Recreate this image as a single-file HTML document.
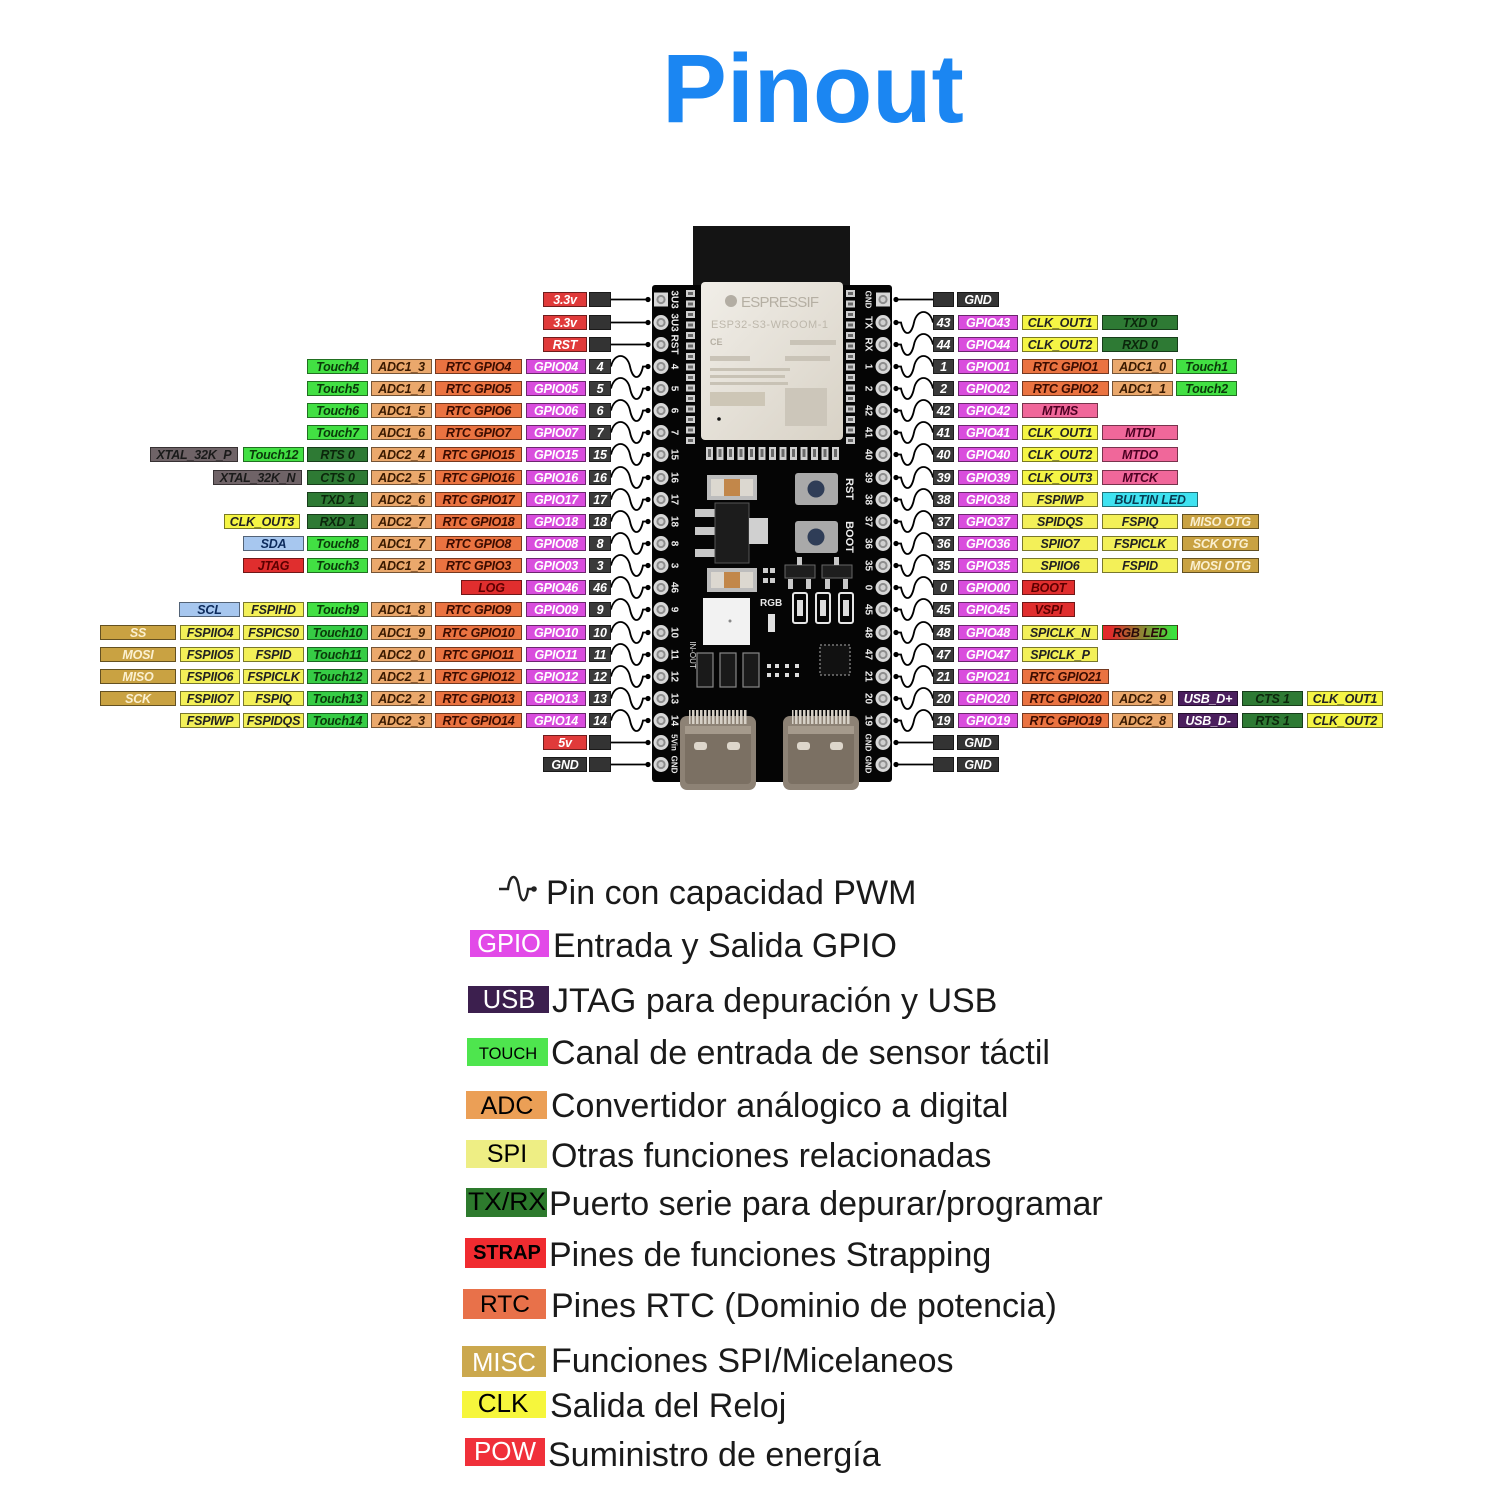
<!DOCTYPE html>
<html><head><meta charset="utf-8">
<style>
html,body{margin:0;padding:0;background:#fff;}
#c{position:relative;width:1500px;height:1500px;overflow:hidden;background:#fff;font-family:"Liberation Sans",sans-serif;}
svg{position:absolute;left:0;top:0;}
.b{position:absolute;height:15px;line-height:12px;font:italic bold 12.5px "Liberation Sans",sans-serif;text-align:center;box-sizing:border-box;border:1px solid rgba(0,0,0,.5);white-space:nowrap;letter-spacing:-0.2px}
.nm{background:#3a3a3a;color:#fff;width:22px}
.gp{background:#d94ddd;color:#fff;width:60px}
.rt{background:#ea7341;color:#3b0c00;width:87px}
.ad{background:#eaa86c;color:#3a1a00;width:61px}
.tc{background:#42e043;color:#0a3a0a;width:61px}
.t2{background:#36cc45;color:#0a3a0a;width:61px}
.tx{background:#2e7a34;color:#0b260b;width:61px}
.xt{background:#6f6367;color:#1a1a1a}
.ck{background:#f5f545;color:#222;width:76px}
.sp{background:#f3f058;color:#222;width:61px}
.bl{background:#a7c7ef;color:#0d2b5c;width:61px}
.rd{background:#e02e2e;color:#5c0000}
.pw{background:#e03a3a;color:#fff;width:44px}
.gn{background:#343434;color:#fff;width:44px}
.dk{background:#333;width:22px}
.ms{background:#c9a242;color:#fbf0d0}
.pk{background:#f0679a;color:#4c0022;width:76px}
.cy{background:#3fe2f0;color:#083c52}
.us{background:#4b1f5e;color:#fff;width:60px}
.rg{background:linear-gradient(90deg,#e12b2b 10%,#3de03d 95%);color:#2a0a0a;width:76px}
</style></head>
<body><div id="c">
<svg width="1500" height="1500" viewBox="0 0 1500 1500" xmlns="http://www.w3.org/2000/svg">
<defs>
<linearGradient id="silver" x1="0" y1="0" x2="1" y2="1"><stop offset="0" stop-color="#f1eee8"/><stop offset="1" stop-color="#d8d2c6"/></linearGradient>
<pattern id="padv" x="686" y="289" width="10" height="10.5" patternUnits="userSpaceOnUse"><rect x="0" y="1" width="9" height="7" fill="#d0d0d0"/><rect x="2" y="3" width="5" height="3" fill="#6a6a6a"/></pattern>
<pattern id="padv2" x="846" y="289" width="10" height="10.5" patternUnits="userSpaceOnUse"><rect x="0" y="1" width="9" height="7" fill="#d0d0d0"/><rect x="2" y="3" width="5" height="3" fill="#6a6a6a"/></pattern>
<pattern id="padh" x="705" y="447" width="10.5" height="14" patternUnits="userSpaceOnUse"><rect x="1" y="0" width="7" height="13" fill="#d0d0d0"/><rect x="3" y="2" width="3" height="8" fill="#6a6a6a"/></pattern>
<pattern id="usbp" x="0" y="0" width="4" height="14" patternUnits="userSpaceOnUse"><rect x="0" y="0" width="2.5" height="14" fill="#d6d0c6"/></pattern>
<g id="wl" fill="none" stroke="#000" stroke-width="1.8"><path d="M611 0 C614 -14 627 -14 630 0 C633 14 640 14 643 0 L648 0"/><circle cx="648" cy="0" r="2.6" fill="#000" stroke="none"/></g>
<g id="wr" fill="none" stroke="#000" stroke-width="1.8"><path d="M896 0 L901 0 C904 14 911 14 914 0 C917 -14 930 -14 933 0"/><circle cx="896" cy="0" r="2.6" fill="#000" stroke="none"/></g>
<g id="sl" stroke="#000" stroke-width="1.8"><path d="M611 0 L648 0"/><circle cx="648" cy="0" r="2.6" fill="#000" stroke="none"/></g>
<g id="sr" stroke="#000" stroke-width="1.8"><path d="M896 0 L933 0"/><circle cx="896" cy="0" r="2.6" fill="#000" stroke="none"/></g>
<g id="ph"><circle r="7.5" fill="#d8d8d8"/><circle r="4.6" fill="#8e8e8e"/><circle r="2.6" fill="#cfcfcf"/></g>
<g id="phs"><rect x="-7" y="-7" width="14" height="14" fill="#d8d8d8"/><circle r="4.6" fill="#8e8e8e"/><circle r="2.6" fill="#cfcfcf"/></g>
<g id="usb"><rect x="0" y="6" width="76" height="74" rx="7" fill="#8d8275"/><rect x="9" y="0" width="58" height="14" fill="url(#usbp)"/><rect x="5" y="16" width="66" height="58" rx="4" fill="#7b7063"/><rect x="14" y="32" width="13" height="8" rx="3" fill="#ddd6cb"/><rect x="47" y="32" width="13" height="8" rx="3" fill="#ddd6cb"/><rect x="5" y="16" width="66" height="8" fill="#a59a8c"/></g>
</defs>

<text x="813" y="122" font-family="Liberation Sans, sans-serif" font-size="97" font-weight="bold" fill="#1b86f2" text-anchor="middle">Pinout</text>

<!-- board -->
<rect x="693" y="226" width="157" height="62" fill="#141414"/>
<rect x="652" y="285" width="240" height="497" rx="3" fill="#050505"/>
<rect x="686" y="289" width="9" height="157" fill="url(#padv)"/>
<rect x="846" y="289" width="9" height="157" fill="url(#padv2)"/>
<rect x="705" y="447" width="136" height="14" fill="url(#padh)"/>
<rect x="701" y="282" width="142" height="158" rx="4" fill="url(#silver)"/>
<circle cx="731" cy="301" r="6" fill="#b3ada3"/>
<text x="741" y="307" font-family="Liberation Sans, sans-serif" font-size="15" fill="#b5afa3" textLength="78">ESPRESSIF</text>
<text x="711" y="328" font-family="Liberation Sans, sans-serif" font-size="11" fill="#bdb7ab" textLength="117">ESP32-S3-WROOM-1</text>
<text x="710" y="345" font-family="Liberation Sans, sans-serif" font-size="9" font-weight="bold" fill="#b5afa3">CE</text>
<rect x="790" y="340" width="46" height="5" fill="#c9c3b7"/>
<rect x="710" y="356" width="40" height="5" fill="#c9c3b7"/><rect x="785" y="356" width="45" height="5" fill="#c9c3b7"/>
<rect x="710" y="368" width="80" height="3" fill="#c8c2b5"/><rect x="710" y="375" width="75" height="3" fill="#c8c2b5"/><rect x="710" y="382" width="78" height="3" fill="#c8c2b5"/>
<rect x="710" y="392" width="55" height="14" fill="#cdc6b6"/>
<rect x="785" y="388" width="42" height="38" fill="#ccc6ba"/>
<circle cx="719" cy="419" r="1.8" fill="#111"/>
<!-- components -->
<rect x="707" y="475" width="50" height="25" fill="#bdbdbd"/><rect x="711" y="479" width="42" height="17" fill="#dcd8d0"/><rect x="724" y="479" width="16" height="17" fill="#c2874a"/>
<rect x="795" y="473" width="43" height="32" rx="3" fill="#a9a9a9"/><circle cx="816" cy="489" r="8.5" fill="#2f3d57"/>
<rect x="695" y="509" width="20" height="8" fill="#c8c8c8"/><rect x="695" y="527" width="20" height="8" fill="#c8c8c8"/><rect x="695" y="549" width="20" height="8" fill="#c8c8c8"/>
<rect x="715" y="503" width="34" height="60" fill="#1c1c1c" stroke="#555" stroke-width="1"/>
<rect x="749" y="518" width="19" height="26" fill="#d0d0d0"/>
<rect x="795" y="521" width="43" height="32" rx="3" fill="#a9a9a9"/><circle cx="816" cy="537" r="8.5" fill="#2f3d57"/>
<rect x="707" y="568" width="50" height="24" fill="#bdbdbd"/><rect x="711" y="572" width="42" height="16" fill="#dcd8d0"/><rect x="724" y="572" width="16" height="16" fill="#c2874a"/>
<rect x="785" y="565" width="30" height="13" fill="#1e1e1e" stroke="#666"/><rect x="788" y="579" width="5" height="10" fill="#c8c8c8"/><rect x="806" y="579" width="5" height="10" fill="#c8c8c8"/><rect x="797" y="557" width="5" height="8" fill="#c8c8c8"/>
<rect x="822" y="565" width="30" height="13" fill="#1e1e1e" stroke="#666"/><rect x="825" y="579" width="5" height="10" fill="#c8c8c8"/><rect x="843" y="579" width="5" height="10" fill="#c8c8c8"/><rect x="834" y="557" width="5" height="8" fill="#c8c8c8"/>
<rect x="763" y="568" width="5" height="5" fill="#ccc"/><rect x="770" y="568" width="5" height="5" fill="#ccc"/><rect x="763" y="578" width="5" height="5" fill="#ccc"/><rect x="770" y="578" width="5" height="5" fill="#ccc"/>
<rect x="793" y="593" width="14" height="30" rx="2" fill="none" stroke="#e6e6e6" stroke-width="2"/><rect x="797" y="600" width="6" height="16" fill="#ddd"/>
<rect x="816" y="593" width="14" height="30" rx="2" fill="none" stroke="#e6e6e6" stroke-width="2"/><rect x="820" y="600" width="6" height="16" fill="#ddd"/>
<rect x="839" y="593" width="14" height="30" rx="2" fill="none" stroke="#e6e6e6" stroke-width="2"/><rect x="843" y="600" width="6" height="16" fill="#ddd"/>
<text x="760" y="606" font-family="Liberation Sans, sans-serif" font-size="10" font-weight="bold" fill="#e8e8e8">RGB</text>
<rect x="768" y="614" width="7" height="18" fill="#e0e0e0"/>
<rect x="703" y="598" width="47" height="47" fill="#f2f2f2"/><circle cx="730" cy="621" r="1.5" fill="#888"/>
<rect x="697" y="653" width="16" height="34" fill="#1a1a1a" stroke="#888" stroke-width="1.2"/>
<rect x="720" y="653" width="16" height="34" fill="#1a1a1a" stroke="#888" stroke-width="1.2"/>
<rect x="743" y="653" width="16" height="34" fill="#1a1a1a" stroke="#888" stroke-width="1.2"/>
<rect x="767" y="664" width="4" height="4" fill="#ddd"/><rect x="775" y="664" width="4" height="4" fill="#ddd"/><rect x="785" y="664" width="4" height="4" fill="#ddd"/><rect x="795" y="664" width="4" height="4" fill="#ddd"/>
<rect x="767" y="673" width="4" height="4" fill="#ddd"/><rect x="775" y="673" width="4" height="4" fill="#ddd"/><rect x="785" y="673" width="4" height="4" fill="#ddd"/><rect x="795" y="673" width="4" height="4" fill="#ddd"/>
<rect x="820" y="645" width="30" height="30" fill="#111" stroke="#777" stroke-width="1.5" stroke-dasharray="2 2"/>
<text transform="translate(690,655) rotate(90)" font-family="Liberation Sans, sans-serif" font-size="8" fill="#ddd" text-anchor="middle">IN-OUT</text>
<use href="#usb" x="680" y="710"/>
<use href="#usb" x="783" y="710"/>
<text transform="translate(846,489) rotate(90)" font-family="Liberation Sans, sans-serif" font-size="11" font-weight="bold" fill="#eee" text-anchor="middle">RST</text>
<text transform="translate(846,537) rotate(90)" font-family="Liberation Sans, sans-serif" font-size="11" font-weight="bold" fill="#eee" text-anchor="middle">BOOT</text>

<!-- pin holes -->
<use href="#phs" x="661" y="299.5"/><use href="#ph" x="661" y="322.5"/><use href="#ph" x="661" y="344.5"/><use href="#ph" x="661" y="366.5"/><use href="#ph" x="661" y="388.5"/><use href="#ph" x="661" y="410.5"/><use href="#ph" x="661" y="432.5"/><use href="#ph" x="661" y="454.5"/><use href="#ph" x="661" y="477.5"/><use href="#ph" x="661" y="499.5"/><use href="#ph" x="661" y="521.5"/><use href="#ph" x="661" y="543.5"/><use href="#ph" x="661" y="565.5"/><use href="#ph" x="661" y="587.5"/><use href="#ph" x="661" y="609.5"/><use href="#ph" x="661" y="632.5"/><use href="#ph" x="661" y="654.5"/><use href="#ph" x="661" y="676.5"/><use href="#ph" x="661" y="698.5"/><use href="#ph" x="661" y="720.5"/><use href="#ph" x="661" y="742.5"/><use href="#ph" x="661" y="764.5"/>
<use href="#phs" x="883" y="299.5"/><use href="#ph" x="883" y="322.5"/><use href="#ph" x="883" y="344.5"/><use href="#ph" x="883" y="366.5"/><use href="#ph" x="883" y="388.5"/><use href="#ph" x="883" y="410.5"/><use href="#ph" x="883" y="432.5"/><use href="#ph" x="883" y="454.5"/><use href="#ph" x="883" y="477.5"/><use href="#ph" x="883" y="499.5"/><use href="#ph" x="883" y="521.5"/><use href="#ph" x="883" y="543.5"/><use href="#ph" x="883" y="565.5"/><use href="#ph" x="883" y="587.5"/><use href="#ph" x="883" y="609.5"/><use href="#ph" x="883" y="632.5"/><use href="#ph" x="883" y="654.5"/><use href="#ph" x="883" y="676.5"/><use href="#ph" x="883" y="698.5"/><use href="#ph" x="883" y="720.5"/><use href="#ph" x="883" y="742.5"/><use href="#ph" x="883" y="764.5"/>

<!-- silk pin labels -->
<g font-family="Liberation Sans, sans-serif" font-size="10" font-weight="bold" fill="#eaeaea" text-anchor="middle">
<text transform="translate(675,299.5) rotate(90)" dy="3.5">3U3</text><text transform="translate(675,322.5) rotate(90)" dy="3.5">3U3</text><text transform="translate(675,344.5) rotate(90)" dy="3.5">RST</text><text transform="translate(675,366.5) rotate(90)" dy="3.5">4</text><text transform="translate(675,388.5) rotate(90)" dy="3.5">5</text><text transform="translate(675,410.5) rotate(90)" dy="3.5">6</text><text transform="translate(675,432.5) rotate(90)" dy="3.5">7</text><text transform="translate(675,454.5) rotate(90)" dy="3.5">15</text><text transform="translate(675,477.5) rotate(90)" dy="3.5">16</text><text transform="translate(675,499.5) rotate(90)" dy="3.5">17</text><text transform="translate(675,521.5) rotate(90)" dy="3.5">18</text><text transform="translate(675,543.5) rotate(90)" dy="3.5">8</text><text transform="translate(675,565.5) rotate(90)" dy="3.5">3</text><text transform="translate(675,587.5) rotate(90)" dy="3.5">46</text><text transform="translate(675,609.5) rotate(90)" dy="3.5">9</text><text transform="translate(675,632.5) rotate(90)" dy="3.5">10</text><text transform="translate(675,654.5) rotate(90)" dy="3.5">11</text><text transform="translate(675,676.5) rotate(90)" dy="3.5">12</text><text transform="translate(675,698.5) rotate(90)" dy="3.5">13</text><text transform="translate(675,720.5) rotate(90)" dy="3.5">14</text><text transform="translate(675,742.5) rotate(90)" dy="3.5" font-size="8">5Vin</text><text transform="translate(675,764.5) rotate(90)" dy="3.5" font-size="8">GND</text>
<text transform="translate(869,299.5) rotate(90)" dy="3.5" font-size="8">GND</text><text transform="translate(869,322.5) rotate(90)" dy="3.5">TX</text><text transform="translate(869,344.5) rotate(90)" dy="3.5">RX</text><text transform="translate(869,366.5) rotate(90)" dy="3.5">1</text><text transform="translate(869,388.5) rotate(90)" dy="3.5">2</text><text transform="translate(869,410.5) rotate(90)" dy="3.5">42</text><text transform="translate(869,432.5) rotate(90)" dy="3.5">41</text><text transform="translate(869,454.5) rotate(90)" dy="3.5">40</text><text transform="translate(869,477.5) rotate(90)" dy="3.5">39</text><text transform="translate(869,499.5) rotate(90)" dy="3.5">38</text><text transform="translate(869,521.5) rotate(90)" dy="3.5">37</text><text transform="translate(869,543.5) rotate(90)" dy="3.5">36</text><text transform="translate(869,565.5) rotate(90)" dy="3.5">35</text><text transform="translate(869,587.5) rotate(90)" dy="3.5">0</text><text transform="translate(869,609.5) rotate(90)" dy="3.5">45</text><text transform="translate(869,632.5) rotate(90)" dy="3.5">48</text><text transform="translate(869,654.5) rotate(90)" dy="3.5">47</text><text transform="translate(869,676.5) rotate(90)" dy="3.5">21</text><text transform="translate(869,698.5) rotate(90)" dy="3.5">20</text><text transform="translate(869,720.5) rotate(90)" dy="3.5">19</text><text transform="translate(869,742.5) rotate(90)" dy="3.5" font-size="8">GND</text><text transform="translate(869,764.5) rotate(90)" dy="3.5" font-size="8">GND</text>
</g>

<!-- connectors -->
<use href="#sl" y="299.5"/><use href="#sl" y="322.5"/><use href="#sl" y="344.5"/>
<use href="#wl" y="366.5"/><use href="#wl" y="388.5"/><use href="#wl" y="410.5"/><use href="#wl" y="432.5"/><use href="#wl" y="454.5"/><use href="#wl" y="477.5"/><use href="#wl" y="499.5"/><use href="#wl" y="521.5"/><use href="#wl" y="543.5"/><use href="#wl" y="565.5"/><use href="#wl" y="587.5"/><use href="#wl" y="609.5"/><use href="#wl" y="632.5"/><use href="#wl" y="654.5"/><use href="#wl" y="676.5"/><use href="#wl" y="698.5"/><use href="#wl" y="720.5"/>
<use href="#sl" y="742.5"/><use href="#sl" y="764.5"/>
<use href="#sr" y="299.5"/>
<use href="#wr" y="322.5"/><use href="#wr" y="344.5"/><use href="#wr" y="366.5"/><use href="#wr" y="388.5"/><use href="#wr" y="410.5"/><use href="#wr" y="432.5"/><use href="#wr" y="454.5"/><use href="#wr" y="477.5"/><use href="#wr" y="499.5"/><use href="#wr" y="521.5"/><use href="#wr" y="543.5"/><use href="#wr" y="565.5"/><use href="#wr" y="587.5"/><use href="#wr" y="609.5"/><use href="#wr" y="632.5"/><use href="#wr" y="654.5"/><use href="#wr" y="676.5"/><use href="#wr" y="698.5"/><use href="#wr" y="720.5"/>
<use href="#sr" y="742.5"/><use href="#sr" y="764.5"/>

<!-- legend -->
<path d="M499 889 L508 889 C510 873 517 873 519 889 C521 904 526 904 528 889 L534 889" fill="none" stroke="#222" stroke-width="2.4"/>
<circle cx="534" cy="889" r="2.8" fill="#222"/>
<g font-family="Liberation Sans, sans-serif" font-size="34" fill="#1a1a1a">
<text x="546" y="904">Pin con capacidad PWM</text>
<text x="553" y="957">Entrada y Salida GPIO</text>
<text x="552" y="1012">JTAG para depuración y USB</text>
<text x="551" y="1064">Canal de entrada de sensor táctil</text>
<text x="551" y="1117">Convertidor análogico a digital</text>
<text x="551" y="1167">Otras funciones relacionadas</text>
<text x="549" y="1215">Puerto serie para depurar/programar</text>
<text x="549" y="1266">Pines de funciones Strapping</text>
<text x="551" y="1317">Pines RTC (Dominio de potencia)</text>
<text x="551" y="1372">Funciones SPI/Micelaneos</text>
<text x="550" y="1417">Salida del Reloj</text>
<text x="548" y="1466">Suministro de energía</text>
</g>
<rect x="470" y="930" width="79" height="27" fill="#e24ae8"/>
<rect x="468" y="986" width="81" height="27" fill="#3c1f4e"/>
<rect x="467" y="1038" width="81" height="28" fill="#4ee54e"/>
<rect x="466" y="1091" width="81" height="28" fill="#eb9f56"/>
<rect x="466" y="1140" width="81" height="28" fill="#eeee84"/>
<rect x="466" y="1188" width="81" height="29" fill="#2d7a2d"/>
<rect x="465" y="1238" width="81" height="30" fill="#f02b30"/>
<rect x="463" y="1289" width="83" height="30" fill="#e8714a"/>
<rect x="462" y="1346" width="84" height="31" fill="#cba84e"/>
<rect x="462" y="1391" width="84" height="27" fill="#f6f63c"/>
<rect x="465" y="1438" width="80" height="28" fill="#f0303a"/>
<g font-family="Liberation Sans, sans-serif" text-anchor="middle">
<text x="509" y="952" font-size="25.5" fill="#fff">GPIO</text>
<text x="509" y="1008" font-size="25.5" fill="#fff">USB</text>
<text x="508" y="1059" font-size="16.5" fill="#000">TOUCH</text>
<text x="507" y="1114" font-size="25" fill="#000">ADC</text>
<text x="507" y="1162" font-size="25" fill="#000">SPI</text>
<text x="507" y="1210" font-size="25" fill="#000" textLength="78" lengthAdjust="spacingAndGlyphs">TX/RX</text>
<text x="507" y="1259" font-size="20" font-weight="bold" fill="#000">STRAP</text>
<text x="505" y="1312" font-size="24.5" fill="#000">RTC</text>
<text x="504" y="1371" font-size="25.5" fill="#fff">MISC</text>
<text x="503" y="1412" font-size="26" fill="#000">CLK</text>
<text x="505" y="1460" font-size="26" fill="#fff">POW</text>
</g>
</svg>

<!-- LEFT LABELS -->
<div class="b pw" style="left:543px;top:292px">3.3v</div><div class="b dk" style="left:589px;top:292px"></div>
<div class="b pw" style="left:543px;top:315px">3.3v</div><div class="b dk" style="left:589px;top:315px"></div>
<div class="b pw" style="left:543px;top:337px">RST</div><div class="b dk" style="left:589px;top:337px"></div>

<div class="b nm" style="left:589px;top:359px">4</div><div class="b gp" style="left:526px;top:359px">GPIO04</div><div class="b rt" style="left:435px;top:359px">RTC GPIO4</div><div class="b ad" style="left:371px;top:359px">ADC1_3</div><div class="b tc" style="left:307px;top:359px">Touch4</div>
<div class="b nm" style="left:589px;top:381px">5</div><div class="b gp" style="left:526px;top:381px">GPIO05</div><div class="b rt" style="left:435px;top:381px">RTC GPIO5</div><div class="b ad" style="left:371px;top:381px">ADC1_4</div><div class="b tc" style="left:307px;top:381px">Touch5</div>
<div class="b nm" style="left:589px;top:403px">6</div><div class="b gp" style="left:526px;top:403px">GPIO06</div><div class="b rt" style="left:435px;top:403px">RTC GPIO6</div><div class="b ad" style="left:371px;top:403px">ADC1_5</div><div class="b tc" style="left:307px;top:403px">Touch6</div>
<div class="b nm" style="left:589px;top:425px">7</div><div class="b gp" style="left:526px;top:425px">GPIO07</div><div class="b rt" style="left:435px;top:425px">RTC GPIO7</div><div class="b ad" style="left:371px;top:425px">ADC1_6</div><div class="b tc" style="left:307px;top:425px">Touch7</div>
<div class="b nm" style="left:589px;top:447px">15</div><div class="b gp" style="left:526px;top:447px">GPIO15</div><div class="b rt" style="left:435px;top:447px">RTC GPIO15</div><div class="b ad" style="left:371px;top:447px">ADC2_4</div><div class="b tx" style="left:307px;top:447px">RTS 0</div><div class="b tc" style="left:243px;top:447px">Touch12</div><div class="b xt" style="left:150px;top:447px;width:88px">XTAL_32K_P</div>
<div class="b nm" style="left:589px;top:470px">16</div><div class="b gp" style="left:526px;top:470px">GPIO16</div><div class="b rt" style="left:435px;top:470px">RTC GPIO16</div><div class="b ad" style="left:371px;top:470px">ADC2_5</div><div class="b tx" style="left:307px;top:470px">CTS 0</div><div class="b xt" style="left:213px;top:470px;width:89px">XTAL_32K_N</div>
<div class="b nm" style="left:589px;top:492px">17</div><div class="b gp" style="left:526px;top:492px">GPIO17</div><div class="b rt" style="left:435px;top:492px">RTC GPIO17</div><div class="b ad" style="left:371px;top:492px">ADC2_6</div><div class="b tx" style="left:307px;top:492px">TXD 1</div>
<div class="b nm" style="left:589px;top:514px">18</div><div class="b gp" style="left:526px;top:514px">GPIO18</div><div class="b rt" style="left:435px;top:514px">RTC GPIO18</div><div class="b ad" style="left:371px;top:514px">ADC2_7</div><div class="b tx" style="left:307px;top:514px">RXD 1</div><div class="b ck" style="left:224px;top:514px">CLK_OUT3</div>
<div class="b nm" style="left:589px;top:536px">8</div><div class="b gp" style="left:526px;top:536px">GPIO08</div><div class="b rt" style="left:435px;top:536px">RTC GPIO8</div><div class="b ad" style="left:371px;top:536px">ADC1_7</div><div class="b tc" style="left:307px;top:536px">Touch8</div><div class="b bl" style="left:243px;top:536px">SDA</div>
<div class="b nm" style="left:589px;top:558px">3</div><div class="b gp" style="left:526px;top:558px">GPIO03</div><div class="b rt" style="left:435px;top:558px">RTC GPIO3</div><div class="b ad" style="left:371px;top:558px">ADC1_2</div><div class="b tc" style="left:307px;top:558px">Touch3</div><div class="b rd" style="left:243px;top:558px;width:61px">JTAG</div>
<div class="b nm" style="left:589px;top:580px">46</div><div class="b gp" style="left:526px;top:580px">GPIO46</div><div class="b rd" style="left:461px;top:580px;width:61px">LOG</div>
<div class="b nm" style="left:589px;top:602px">9</div><div class="b gp" style="left:526px;top:602px">GPIO09</div><div class="b rt" style="left:435px;top:602px">RTC GPIO9</div><div class="b ad" style="left:371px;top:602px">ADC1_8</div><div class="b tc" style="left:307px;top:602px">Touch9</div><div class="b sp" style="left:243px;top:602px">FSPIHD</div><div class="b bl" style="left:179px;top:602px">SCL</div>
<div class="b nm" style="left:589px;top:625px">10</div><div class="b gp" style="left:526px;top:625px">GPIO10</div><div class="b rt" style="left:435px;top:625px">RTC GPIO10</div><div class="b ad" style="left:371px;top:625px">ADC1_9</div><div class="b t2" style="left:307px;top:625px">Touch10</div><div class="b sp" style="left:243px;top:625px">FSPICS0</div><div class="b sp" style="left:180px;top:625px;width:60px">FSPIIO4</div><div class="b ms" style="left:100px;top:625px;width:76px">SS</div>
<div class="b nm" style="left:589px;top:647px">11</div><div class="b gp" style="left:526px;top:647px">GPIO11</div><div class="b rt" style="left:435px;top:647px">RTC GPIO11</div><div class="b ad" style="left:371px;top:647px">ADC2_0</div><div class="b t2" style="left:307px;top:647px">Touch11</div><div class="b sp" style="left:243px;top:647px">FSPID</div><div class="b sp" style="left:180px;top:647px;width:60px">FSPIIO5</div><div class="b ms" style="left:100px;top:647px;width:76px">MOSI</div>
<div class="b nm" style="left:589px;top:669px">12</div><div class="b gp" style="left:526px;top:669px">GPIO12</div><div class="b rt" style="left:435px;top:669px">RTC GPIO12</div><div class="b ad" style="left:371px;top:669px">ADC2_1</div><div class="b t2" style="left:307px;top:669px">Touch12</div><div class="b sp" style="left:243px;top:669px">FSPICLK</div><div class="b sp" style="left:180px;top:669px;width:60px">FSPIIO6</div><div class="b ms" style="left:100px;top:669px;width:76px">MISO</div>
<div class="b nm" style="left:589px;top:691px">13</div><div class="b gp" style="left:526px;top:691px">GPIO13</div><div class="b rt" style="left:435px;top:691px">RTC GPIO13</div><div class="b ad" style="left:371px;top:691px">ADC2_2</div><div class="b t2" style="left:307px;top:691px">Touch13</div><div class="b sp" style="left:243px;top:691px">FSPIQ</div><div class="b sp" style="left:180px;top:691px;width:60px">FSPIIO7</div><div class="b ms" style="left:100px;top:691px;width:76px">SCK</div>
<div class="b nm" style="left:589px;top:713px">14</div><div class="b gp" style="left:526px;top:713px">GPIO14</div><div class="b rt" style="left:435px;top:713px">RTC GPIO14</div><div class="b ad" style="left:371px;top:713px">ADC2_3</div><div class="b t2" style="left:307px;top:713px">Touch14</div><div class="b sp" style="left:243px;top:713px">FSPIDQS</div><div class="b sp" style="left:180px;top:713px;width:60px">FSPIWP</div>
<div class="b pw" style="left:543px;top:735px">5v</div><div class="b dk" style="left:589px;top:735px"></div>
<div class="b gn" style="left:543px;top:757px">GND</div><div class="b dk" style="left:589px;top:757px"></div>

<!-- RIGHT LABELS -->
<div class="b dk" style="left:933px;top:292px;width:21px"></div><div class="b gn" style="left:957px;top:292px;width:42px">GND</div>
<div class="b nm" style="left:933px;top:315px;width:21px">43</div><div class="b gp" style="left:958px;top:315px">GPIO43</div><div class="b ck" style="left:1022px;top:315px">CLK_OUT1</div><div class="b tx" style="left:1102px;top:315px;width:76px">TXD 0</div>
<div class="b nm" style="left:933px;top:337px;width:21px">44</div><div class="b gp" style="left:958px;top:337px">GPIO44</div><div class="b ck" style="left:1022px;top:337px">CLK_OUT2</div><div class="b tx" style="left:1102px;top:337px;width:76px">RXD 0</div>
<div class="b nm" style="left:933px;top:359px;width:21px">1</div><div class="b gp" style="left:958px;top:359px">GPIO01</div><div class="b rt" style="left:1022px;top:359px">RTC GPIO1</div><div class="b ad" style="left:1112px;top:359px">ADC1_0</div><div class="b tc" style="left:1176px;top:359px">Touch1</div>
<div class="b nm" style="left:933px;top:381px;width:21px">2</div><div class="b gp" style="left:958px;top:381px">GPIO02</div><div class="b rt" style="left:1022px;top:381px">RTC GPIO2</div><div class="b ad" style="left:1112px;top:381px">ADC1_1</div><div class="b tc" style="left:1176px;top:381px">Touch2</div>
<div class="b nm" style="left:933px;top:403px;width:21px">42</div><div class="b gp" style="left:958px;top:403px">GPIO42</div><div class="b pk" style="left:1022px;top:403px">MTMS</div>
<div class="b nm" style="left:933px;top:425px;width:21px">41</div><div class="b gp" style="left:958px;top:425px">GPIO41</div><div class="b ck" style="left:1022px;top:425px">CLK_OUT1</div><div class="b pk" style="left:1102px;top:425px">MTDI</div>
<div class="b nm" style="left:933px;top:447px;width:21px">40</div><div class="b gp" style="left:958px;top:447px">GPIO40</div><div class="b ck" style="left:1022px;top:447px">CLK_OUT2</div><div class="b pk" style="left:1102px;top:447px">MTDO</div>
<div class="b nm" style="left:933px;top:470px;width:21px">39</div><div class="b gp" style="left:958px;top:470px">GPIO39</div><div class="b ck" style="left:1022px;top:470px">CLK_OUT3</div><div class="b pk" style="left:1102px;top:470px">MTCK</div>
<div class="b nm" style="left:933px;top:492px;width:21px">38</div><div class="b gp" style="left:958px;top:492px">GPIO38</div><div class="b sp" style="left:1022px;top:492px;width:76px">FSPIWP</div><div class="b cy" style="left:1102px;top:492px;width:96px">BULTIN LED</div>
<div class="b nm" style="left:933px;top:514px;width:21px">37</div><div class="b gp" style="left:958px;top:514px">GPIO37</div><div class="b sp" style="left:1022px;top:514px;width:76px">SPIDQS</div><div class="b sp" style="left:1102px;top:514px;width:76px">FSPIQ</div><div class="b ms" style="left:1182px;top:514px;width:77px">MISO OTG</div>
<div class="b nm" style="left:933px;top:536px;width:21px">36</div><div class="b gp" style="left:958px;top:536px">GPIO36</div><div class="b sp" style="left:1022px;top:536px;width:76px">SPIIO7</div><div class="b sp" style="left:1102px;top:536px;width:76px">FSPICLK</div><div class="b ms" style="left:1182px;top:536px;width:77px">SCK OTG</div>
<div class="b nm" style="left:933px;top:558px;width:21px">35</div><div class="b gp" style="left:958px;top:558px">GPIO35</div><div class="b sp" style="left:1022px;top:558px;width:76px">SPIIO6</div><div class="b sp" style="left:1102px;top:558px;width:76px">FSPID</div><div class="b ms" style="left:1182px;top:558px;width:77px">MOSI OTG</div>
<div class="b nm" style="left:933px;top:580px;width:21px">0</div><div class="b gp" style="left:958px;top:580px">GPIO00</div><div class="b rd" style="left:1022px;top:580px;width:53px">BOOT</div>
<div class="b nm" style="left:933px;top:602px;width:21px">45</div><div class="b gp" style="left:958px;top:602px">GPIO45</div><div class="b rd" style="left:1022px;top:602px;width:53px">VSPI</div>
<div class="b nm" style="left:933px;top:625px;width:21px">48</div><div class="b gp" style="left:958px;top:625px">GPIO48</div><div class="b sp" style="left:1022px;top:625px;width:76px">SPICLK_N</div><div class="b rg" style="left:1102px;top:625px">RGB LED</div>
<div class="b nm" style="left:933px;top:647px;width:21px">47</div><div class="b gp" style="left:958px;top:647px">GPIO47</div><div class="b sp" style="left:1022px;top:647px;width:76px">SPICLK_P</div>
<div class="b nm" style="left:933px;top:669px;width:21px">21</div><div class="b gp" style="left:958px;top:669px">GPIO21</div><div class="b rt" style="left:1022px;top:669px">RTC GPIO21</div>
<div class="b nm" style="left:933px;top:691px;width:21px">20</div><div class="b gp" style="left:958px;top:691px">GPIO20</div><div class="b rt" style="left:1022px;top:691px">RTC GPIO20</div><div class="b ad" style="left:1112px;top:691px">ADC2_9</div><div class="b us" style="left:1178px;top:691px">USB_D+</div><div class="b tx" style="left:1242px;top:691px">CTS 1</div><div class="b ck" style="left:1307px;top:691px">CLK_OUT1</div>
<div class="b nm" style="left:933px;top:713px;width:21px">19</div><div class="b gp" style="left:958px;top:713px">GPIO19</div><div class="b rt" style="left:1022px;top:713px">RTC GPIO19</div><div class="b ad" style="left:1112px;top:713px">ADC2_8</div><div class="b us" style="left:1178px;top:713px">USB_D-</div><div class="b tx" style="left:1242px;top:713px">RTS 1</div><div class="b ck" style="left:1307px;top:713px">CLK_OUT2</div>
<div class="b dk" style="left:933px;top:735px;width:21px"></div><div class="b gn" style="left:957px;top:735px;width:42px">GND</div>
<div class="b dk" style="left:933px;top:757px;width:21px"></div><div class="b gn" style="left:957px;top:757px;width:42px">GND</div>
</div></body></html>
